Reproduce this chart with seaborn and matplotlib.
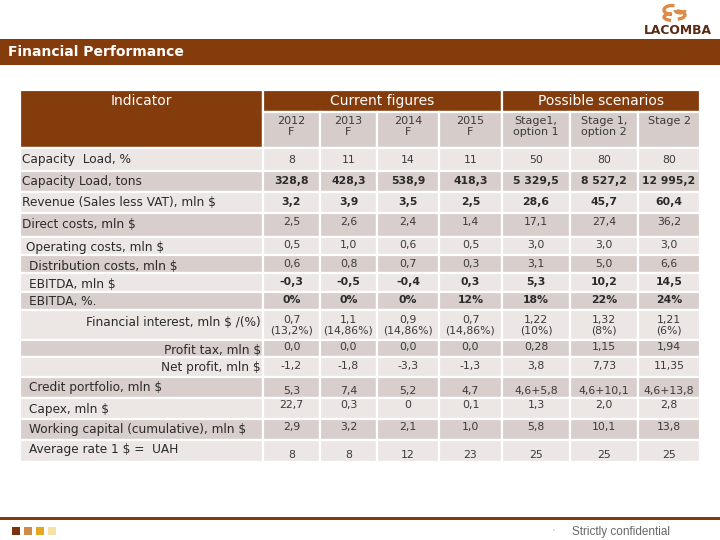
import matplotlib
matplotlib.use("Agg")
import matplotlib.pyplot as plt
from matplotlib.patches import Rectangle, Arc
import seaborn as sns

sns.set_theme(style="white")
plt.rcParams['font.family'] = ['DejaVu Sans']

# ---------------- data ----------------
title = "Financial Performance"
group_headers = ["Indicator", "Current figures", "Possible scenarios"]
column_headers = ["2012\nF", "2013\nF", "2014\nF", "2015\nF",
                  "Stage1,\noption 1", "Stage 1,\noption 2", "Stage 2"]
indicators = ["Capacity  Load, %", "Capacity Load, tons", "Revenue (Sales less VAT), mln $",
              "Direct costs, mln $", "Operating costs, mln $", "Distribution costs, mln $",
              "EBITDA, mln $", "EBITDA, %.", "Financial interest, mln $ /(%)",
              "Profit tax, mln $", "Net profit, mln $", "Credit portfolio, mln $",
              "Capex, mln $", "Working capital (cumulative), mln $", "Average rate 1 $ =  UAH"]
bold_rows = [1, 2, 6, 7]

v2012 = ["8", "328,8", "3,2", "2,5", "0,5", "0,6", "-0,3", "0%", "0,7\n(13,2%)", "0,0", "-1,2", "5,3", "22,7", "2,9", "8"]
v2013 = ["11", "428,3", "3,9", "2,6", "1,0", "0,8", "-0,5", "0%", "1,1\n(14,86%)", "0,0", "-1,8", "7,4", "0,3", "3,2", "8"]
v2014 = ["14", "538,9", "3,5", "2,4", "0,6", "0,7", "-0,4", "0%", "0,9\n(14,86%)", "0,0", "-3,3", "5,2", "0", "2,1", "12"]
v2015 = ["11", "418,3", "2,5", "1,4", "0,5", "0,3", "0,3", "12%", "0,7\n(14,86%)", "0,0", "-1,3", "4,7", "0,1", "1,0", "23"]
s1o1 = ["50", "5 329,5", "28,6", "17,1", "3,0", "3,1", "5,3", "18%", "1,22\n(10%)", "0,28", "3,8", "4,6+5,8", "1,3", "5,8", "25"]
s1o2 = ["80", "8 527,2", "45,7", "27,4", "3,0", "5,0", "10,2", "22%", "1,32\n(8%)", "1,15", "7,73", "4,6+10,1", "2,0", "10,1", "25"]
s2 = ["80", "12 995,2", "60,4", "36,2", "3,0", "6,6", "14,5", "24%", "1,21\n(6%)", "1,94", "11,35", "4,6+13,8", "2,8", "13,8", "25"]
columns = [v2012, v2013, v2014, v2015, s1o1, s1o2, s2]

# ---------------- layout ----------------
BROWN = "#843C0C"
LIGHT = "#ECE6E4"
DARK = "#D8CECB"
HDR2 = "#D6CDCA"
TXT = "#2B2B2B"
VTXT = "#3A3A3A"

col_edges = [20, 263, 320, 377, 439, 502, 570, 638, 700]
hdr_edges = [90, 112, 148]
row_edges = [148, 171, 192, 213, 237, 255, 273, 292, 310, 340, 357, 377, 398, 419, 440, 462]

label_x = [22, 22, 22, 22, 26, 29, 29, 29, 261, 261, 261, 29, 29, 29, 29]
label_ha = ["left"] * 8 + ["right"] * 3 + ["left"] * 4
label_y = [160, 182, 203, 225, 247, 267, 284, 302, 322, 350, 368, 388, 409, 430, 450]
value_y = [160, 181, 202, 222, 245, 264, 282, 300, 325, 347, 366, 391, 405, 427, 455]

fig = plt.figure(figsize=(7.2, 5.4), dpi=100)
ax = fig.add_axes([0, 0, 1, 1])
ax.set_xlim(0, 720)
ax.set_ylim(540, 0)
ax.axis("off")

def cell(x0, x1, y0, y1, color):
    ax.add_patch(Rectangle((x0, y0), x1 - x0, y1 - y0, facecolor=color,
                           edgecolor="white", linewidth=1.6))

# title bar
ax.add_patch(Rectangle((0, 39), 720, 26, facecolor=BROWN, edgecolor="none"))
ax.text(8, 52, title, color="white", fontsize=10, fontweight="bold", va="center", ha="left")

# logo
ax.text(677.5, 30, "LACOMBA", color="#5A2A12", fontsize=8.8, fontweight="heavy", ha="center", va="center",
        family=["DejaVu Sans"])
ORANGE = "#DC8A45"
ax.add_patch(Arc((672, 10), 16, 9, theta1=90, theta2=300, color=ORANGE, linewidth=2.4))
ax.add_patch(Arc((677, 15), 16, 8, theta1=270, theta2=80, color=ORANGE, linewidth=2.4))
ax.add_patch(Arc((673, 17), 18, 7, theta1=120, theta2=250, color=ORANGE, linewidth=2.4))
ax.add_patch(Arc((680, 10), 10, 6, theta1=0, theta2=180, color=ORANGE, linewidth=2.2))

# header
cell(col_edges[0], col_edges[1], hdr_edges[0], hdr_edges[2], BROWN)
cell(col_edges[1], col_edges[5], hdr_edges[0], hdr_edges[1], BROWN)
cell(col_edges[5], col_edges[8], hdr_edges[0], hdr_edges[1], BROWN)
ax.text((col_edges[0] + col_edges[1]) / 2, 101, group_headers[0], color="white", fontsize=10,
        ha="center", va="center")
ax.text((col_edges[1] + col_edges[5]) / 2, 101, group_headers[1], color="white", fontsize=10,
        ha="center", va="center")
ax.text((col_edges[5] + col_edges[8]) / 2, 101, group_headers[2], color="white", fontsize=10,
        ha="center", va="center")
for j, h in enumerate(column_headers):
    x0, x1 = col_edges[j + 1], col_edges[j + 2]
    cell(x0, x1, hdr_edges[1], hdr_edges[2], HDR2)
    ax.text((x0 + x1) / 2, 116, h, color=VTXT, fontsize=8, ha="center", va="top", linespacing=1.15)

# body
for i, name in enumerate(indicators):
    y0, y1 = row_edges[i], row_edges[i + 1]
    color = LIGHT if i % 2 == 0 else DARK
    cell(col_edges[0], col_edges[1], y0, y1, color)
    ax.text(label_x[i], label_y[i], name, color=TXT, fontsize=8.7, ha=label_ha[i], va="center")
    for j, colvals in enumerate(columns):
        x0, x1 = col_edges[j + 1], col_edges[j + 2]
        cell(x0, x1, y0, y1, color)
        bold = i in bold_rows
        ax.text((x0 + x1) / 2, value_y[i], colvals[i], color=TXT if bold else VTXT, fontsize=7.8,
                fontweight="bold" if bold else "normal",
                ha="center", va="center", linespacing=1.1)

# footer
ax.add_patch(Rectangle((0, 517), 720, 3, facecolor=BROWN, edgecolor="none"))
for k, c in enumerate(["#7A3510", "#D08A4A", "#E3A820", "#F7E2A6"]):
    ax.add_patch(Rectangle((12 + k * 12, 527), 7.5, 7.5, facecolor=c, edgecolor="none"))
ax.text(553, 531, "'", color="#999999", fontsize=5, ha="center", va="center")
ax.text(572, 532, "Strictly confidential", color="#666666", fontsize=8.5, ha="left", va="center",
        family=["Liberation Sans Narrow", "Liberation Sans", "DejaVu Sans"])

fig.savefig("out.png", dpi=100)
